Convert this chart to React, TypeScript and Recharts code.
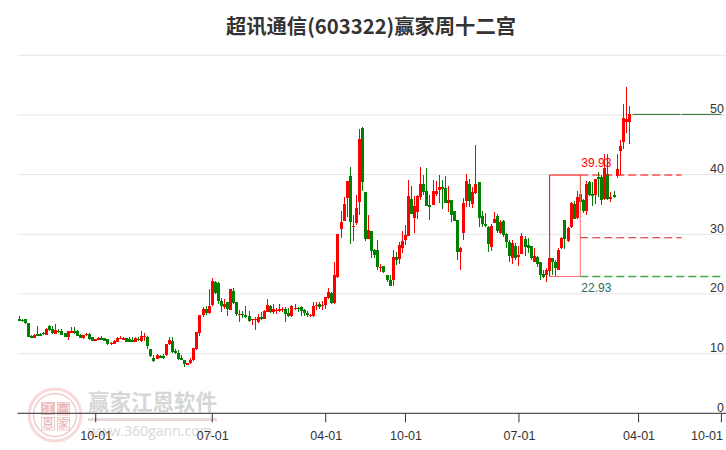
import { Bar, CartesianGrid, ComposedChart, ReferenceDot, ReferenceLine, XAxis, YAxis } from "recharts";

// weekly candles
const opens = [
  15.82, 15.71, 15.76, 15.14, 12.99, 12.66, 13.28, 13.28, 13.5, 13.11,
  14.63, 14.12, 13.33, 13.84, 13.79, 13.39, 12.71, 13.62, 13.79, 13.79,
  13.11, 12.6, 13.05, 13.33, 12.71, 12.15, 12.49, 12.6, 12.54, 12.37,
  11.64, 11.69, 11.98, 12.49, 12.37, 12.54, 12.43, 12.26, 11.98, 12.49,
  12.15, 12.71, 12.77, 10.73, 9.21, 9.15, 9.55, 9.55, 9.77, 11.58,
  12.15, 10.45, 10.17, 9.32, 8.87, 8.25, 8.42, 8.87, 10.85, 13.48,
  16.55, 17.5, 16.82, 18.22, 22.06, 21.84, 18.77, 17.83, 18.6, 17.38,
  20.56, 18.6, 16.49, 16.71, 16.55, 16.38, 15.6, 15.71, 15.26, 16.16,
  15.88, 17.05, 18.05, 16.94, 17.21, 17.1, 17.38, 17.55, 16.82, 16.27,
  17.49, 17.66, 17.77, 17.27, 16.82, 16.38, 16.27, 17.94, 18.33, 17.94,
  18.11, 19.39, 20.22, 18.44, 22.79, 30.92, 32.31, 36.16, 39.78, 31.31,
  31.87, 35.49, 47.8, 37.1, 29.25, 30.58, 27.39, 27.39, 24.33, 24.72,
  23.22, 22.39, 22.28, 26.22, 25.78, 27.72, 29.11, 29.78, 35.89, 32.78,
  33.78, 36.28, 38.39, 37.22, 34.83, 34.94, 36.72, 37.5, 37.89, 37.72,
  35.28, 35.72, 33.89, 32.39, 27.11, 30.28, 35.61, 38.5, 35.11, 36.94,
  38.72, 33.06, 31.72, 31.22, 27.94, 31.89, 33.06, 30.28, 32.22, 30.06,
  28.67, 26.11, 28.06, 26.22, 26.72, 29.22, 28.22, 28, 25.44, 26.22,
  25.33, 23.33, 23.11, 23.78, 26, 25.44, 23.94, 27.67, 32.39, 28.83,
  31.28, 35.06, 32.67, 36.72, 35.72, 33.94, 38.78, 36.83, 36.56, 39.61,
  39.61, 35.94, 40.17, 36, 36.56, 39.72, 43.94, 45.39, 48.78, 48.89,
];
const closes = [
  15.54, 15.42, 15.08, 12.82, 12.66, 13.11, 13.05, 13.05, 13.22, 14.12,
  13.95, 13.39, 13.95, 13.62, 13.16, 12.82, 13.73, 13.79, 13.5, 12.99,
  12.66, 13.05, 13.33, 12.43, 12.15, 12.37, 12.6, 12.43, 12.15, 11.58,
  11.86, 12.15, 12.54, 12.66, 12.54, 11.98, 11.98, 12.09, 12.6, 12.26,
  12.94, 12.99, 11.3, 9.55, 8.76, 9.72, 9.38, 9.32, 11.58, 12.26,
  10.28, 10.11, 9.1, 8.98, 8.19, 8.42, 8.98, 11.02, 13.56, 16.55,
  17.55, 16.82, 18.05, 22.17, 20.17, 18.77, 17.94, 18.38, 17.49, 20.84,
  18.44, 16.71, 16.71, 16.55, 16.16, 15.43, 15.82, 15.82, 16.16, 15.77,
  17.21, 18.16, 16.94, 17.49, 17.38, 17.49, 17.49, 16.66, 16.27, 18.05,
  17.66, 17.49, 17.1, 16.82, 16.43, 16.49, 18.05, 18.16, 17.77, 18.16,
  19.55, 20.39, 18.5, 23.18, 30.03, 32.09, 35.1, 38.94, 32.14, 31.42,
  34.43, 45.96, 38.83, 29.25, 30.75, 27.13, 26.5, 24.44, 24.56, 23.61,
  22.28, 21.28, 26.22, 25.61, 28.17, 28.94, 29.83, 36.39, 33.44, 34.72,
  36.39, 38.39, 37.11, 34.78, 34.61, 37.33, 37.33, 37.89, 37.67, 35.28,
  35.72, 33.28, 32.28, 27.11, 27.72, 35.22, 38.89, 35.61, 37.06, 38.39,
  32.67, 31.67, 31.39, 28.39, 31.39, 32.56, 30.56, 32, 29.89, 28.78,
  26.44, 28.56, 26, 26.5, 29.67, 27.94, 27.67, 26.06, 26.39, 25.06,
  23.17, 22.89, 24, 26, 25.44, 24.28, 27.39, 29.44, 29.17, 31,
  35.17, 32.61, 36.17, 35.44, 33.94, 38.39, 36.56, 36.44, 39.22, 39.22,
  35.72, 41.11, 36, 36.22, 36.28, 41, 44.72, 49.5, 49.33, 50.17,
];
const lows = [
  15.42, 15.37, 15.03, 12.71, 12.6, 12.6, 12.94, 12.99, 13.05, 13.05,
  13.79, 13.33, 13.28, 13.39, 13.05, 12.71, 12.26, 13.5, 13.33, 12.94,
  12.54, 12.49, 12.94, 12.32, 12.09, 12.09, 12.37, 12.37, 12.09, 11.41,
  11.53, 11.58, 11.92, 12.37, 12.26, 11.92, 11.92, 11.98, 11.92, 12.2,
  12.03, 12.15, 10.79, 9.49, 8.59, 9.04, 9.21, 9.15, 9.66, 11.47,
  10.17, 10, 8.98, 8.87, 7.68, 8.19, 8.3, 8.76, 10.56, 12.92,
  16.1, 16.55, 16.71, 17.94, 20.06, 18.38, 16.94, 17.55, 16.27, 17.38,
  18.33, 16.38, 15.26, 15.99, 15.93, 15.38, 14.87, 13.93, 15.15, 15.71,
  15.82, 16.94, 16.82, 16.71, 16.71, 17.05, 17.05, 15.38, 16.16, 16.21,
  17.27, 17.05, 16.38, 16.38, 16.16, 16.16, 16.16, 17.27, 17.55, 17.38,
  17.55, 19.16, 18.38, 18.38, 22.73, 29.42, 32.26, 32.98, 28.41, 28.91,
  31.53, 33.26, 37.27, 28.91, 29.19, 25.96, 26.06, 24.06, 23.72, 23.5,
  22.06, 21.28, 21.28, 24.89, 24.94, 26.83, 28.17, 29.72, 33.39, 30.28,
  32.61, 35.83, 36.56, 34.72, 32.39, 34.89, 36.39, 35.28, 34.22, 35.17,
  33.78, 32.11, 32.28, 25.72, 24.06, 29.06, 34.5, 34.61, 34.33, 36.83,
  31.28, 31.17, 31.28, 27.11, 27.28, 31.83, 30.17, 30.06, 29.61, 27.67,
  25.28, 24.94, 25.61, 24.61, 26.67, 26.28, 26.83, 25.61, 25.39, 24.5,
  22.39, 22.67, 22.06, 22.93, 23.11, 23.06, 23.94, 27.56, 27.5, 28.72,
  31, 32.5, 32.5, 33.94, 33.5, 33.22, 36.39, 34.72, 35.06, 36.28,
  34.94, 35.83, 35.83, 35.44, 36.11, 39.5, 39.89, 44.33, 46.94, 45.17,
];
const highs = [
  16.33, 15.82, 15.88, 15.14, 13.11, 13.22, 14.63, 13.39, 13.56, 14.35,
  14.8, 14.63, 14.97, 14.07, 14.07, 13.5, 13.79, 14.41, 14.41, 13.95,
  13.22, 13.16, 13.45, 13.5, 12.82, 12.49, 12.82, 12.94, 12.54, 12.43,
  12.03, 12.26, 12.71, 12.94, 12.82, 12.66, 12.71, 12.71, 12.71, 12.71,
  13.79, 13.5, 12.94, 10.79, 9.72, 9.89, 9.72, 9.89, 11.58, 12.71,
  12.71, 10.73, 10.56, 9.72, 8.87, 8.47, 9.21, 11.02, 13.67, 16.55,
  17.83, 18.05, 20.89, 22.67, 22.17, 21.95, 19.33, 19.16, 18.72, 20.84,
  21, 18.72, 17.38, 17.21, 18.05, 17.21, 15.82, 16.16, 16.71, 17.05,
  17.38, 19.16, 18.16, 18.33, 17.66, 18.33, 17.83, 17.83, 17.6, 18.16,
  18.38, 17.83, 17.94, 17.49, 17.1, 16.71, 18.72, 18.72, 18.72, 18.83,
  19.55, 21.06, 20.33, 25.4, 30.03, 33.93, 36.21, 38.94, 41.34, 33.26,
  36.6, 47.69, 48.02, 37.1, 33.26, 30.58, 27.5, 29.06, 24.94, 24.72,
  23.22, 23.22, 27.39, 27.11, 28.78, 30.56, 31.56, 39.06, 38.06, 36.39,
  36.56, 41.28, 39.89, 41.06, 36.56, 39.17, 38.94, 39.89, 39.06, 39.72,
  38.06, 35.72, 33.89, 32.39, 27.94, 36.11, 40.06, 39.33, 37.94, 44.89,
  38.72, 33.89, 33.5, 31.39, 31.72, 33.67, 33.39, 32.39, 32.39, 30.17,
  29.06, 29.06, 28.5, 28.06, 30.17, 29.72, 29.33, 28.06, 27.72, 26.39,
  25.44, 24.06, 24.33, 26, 26.11, 25.72, 27.67, 29.5, 32.39, 31.28,
  35.44, 35.61, 37.28, 39.93, 36, 38.94, 38.94, 38.78, 39.22, 40.44,
  39.89, 43.5, 43.5, 37.11, 37.22, 43.5, 45.83, 51.83, 54.72, 51.56,
];

const weekCount = 231;
const tickWeeks = [25, 63, 100, 126, 163, 202, 229];
const tickLabels = ["10-01", "07-01", "04-01", "10-01", "07-01", "04-01", "10-01"];
const priceTicks = [0, 10, 20, 30, 40, 50];
const boxHigh = 39.93;
const boxLow = 22.93;
const boxMid = 29.42;
const lastLevel = 50.1;

const rows = Array.from({ length: weekCount }, (_, week) => ({
  week,
  open: opens[week],
  close: closes[week],
  low: lows[week],
  high: highs[week],
}));

const RED = "#ff0000";
const GREEN = "#008000";
const FONT = "Liberation Sans";

const Candle = (props: any) => {
  const { x, y, width, height, payload } = props;
  if (payload.open === undefined || !height) return null;
  const unit = height / (payload.high - payload.low);
  const top = y + (payload.high - Math.max(payload.open, payload.close)) * unit;
  const bottom = y + (payload.high - Math.min(payload.open, payload.close)) * unit;
  const mid = Math.round(x + width / 2 - 0.5);
  const color = payload.close >= payload.open ? RED : GREEN;
  return (
    <g shapeRendering="crispEdges" fill={color}>
      <rect x={mid} y={y} width={1} height={height} />
      <rect x={mid - 1} y={top} width={3} height={Math.max(bottom - top, 1.5)} />
    </g>
  );
};

const PriceTick = ({ y, payload }: any) => (
  <text x={724} y={y - 1.5} textAnchor="end" fontSize={12.5} fontFamily={FONT} fill="#333">
    {payload.value}
  </text>
);

// the last label is pushed left so it stays on the page
const WeekTick = ({ x, payload }: any) => (
  <text x={Math.min(x + 0.5, 707)} y={439.5} textAnchor="middle" fontSize={12.5} fontFamily={FONT} fill="#333">
    {tickLabels[tickWeeks.indexOf(payload.value)]}
  </text>
);

const BoxLabel = (color: string, dy: number, text: string) => (props: any) => (
  <text x={props.viewBox.x + 1} y={props.viewBox.y + dy} fontSize={12} fontFamily={FONT} fill={color}>
    {text}
  </text>
);

const Watermark = () => (
  <svg width={726} height={450} style={{ position: "absolute", left: 0, top: 0 }}>
    <circle cx={55} cy={415} r={26} fill="none" stroke="#f6dada" strokeWidth={3} />
    <circle cx={55} cy={415} r={21.5} fill="none" stroke="#f2cccc" strokeWidth={1.5} />
    <rect x={41} y={402} width={14} height={13} fill="#f0c0c0" />
    <rect x={57.5} y={402.5} width={12} height={12.5} fill="#f8e4e4" stroke="#f0c8c8" />
    <rect x={41.5} y={417.5} width={13} height={12.5} fill="#fff" stroke="#f0c8c8" />
    <rect x={57.5} y={417.5} width={12} height={12.5} fill="#fff" stroke="#f0c8c8" />
    <g fontSize={11.5} fontFamily="Noto Sans CJK SC" textAnchor="middle" fill="#e8aaaa">
      <text x={48} y={413} fill="#fff">江</text>
      <text x={63.5} y={413}>赢</text>
      <text x={48} y={428}>恩</text>
      <text x={63.5} y={428}>家</text>
    </g>
    <text x={88} y={410} fontSize={21.5} fontWeight="bold" fontFamily="Noto Sans CJK SC" fill="#d6d6d6">
      赢家江恩软件
    </text>
    <rect x={88} y={418} width={129} height={3} fill="#e8d8d8" />
    <text x={88} y={436} fontSize={14} fontFamily="Open Sans" fill="#d8d8d8">
      www.360gann.com
    </text>
  </svg>
);

export default function App() {
  return (
    <div style={{ position: "absolute", left: 0, top: 0, width: 726, height: 450, background: "#fff", overflow: "hidden" }}>
      <Watermark />
      <div
        style={{
          position: "absolute",
          left: 0,
          top: 10,
          width: 742,
          textAlign: "center",
          fontFamily: "Noto Sans CJK SC",
          fontWeight: "bold",
          fontSize: 20.3,
          lineHeight: "30px",
          color: "#333",
        }}
      >
        超讯通信(603322)赢家周十二宫
      </div>
      <ComposedChart
        width={726}
        height={450}
        data={rows}
        barCategoryGap={0}
        margin={{ top: 55.3, right: 0, bottom: 0, left: 17.5 }}
        style={{ position: "absolute", left: 0, top: 0 }}
      >
        <CartesianGrid horizontal vertical={false} stroke="#e6e6e6" />
        <XAxis
          dataKey="week"
          height={36.7}
          ticks={tickWeeks}
          interval={0}
          tickSize={9}
          stroke="#333"
          tick={<WeekTick />}
        />
        <YAxis
          orientation="right"
          width={0.01}
          domain={[0, 60]}
          ticks={priceTicks}
          axisLine={false}
          tickLine={false}
          tick={<PriceTick />}
        />
        <Bar dataKey={(d: any) => [d.low, d.high]} shape={<Candle />} isAnimationActive={false} />
        <ReferenceLine segment={[{ x: 173, y: boxLow }, { x: 173, y: boxHigh }]} stroke={RED} />
        <ReferenceLine segment={[{ x: 173, y: boxHigh }, { x: 183, y: boxHigh }]} stroke={RED} />
        <ReferenceLine segment={[{ x: 183, y: boxLow }, { x: 183, y: boxHigh }]} stroke="#ff7070" />
        <ReferenceLine segment={[{ x: 173, y: boxLow }, { x: 183, y: boxLow }]} stroke="#ff7070" />
        <ReferenceLine segment={[{ x: 183, y: boxHigh }, { x: 216, y: boxHigh }]} stroke={RED} strokeDasharray="8 4" />
        <ReferenceLine segment={[{ x: 183, y: boxMid }, { x: 216, y: boxMid }]} stroke="#d02020" strokeDasharray="8 4" />
        <ReferenceLine segment={[{ x: 183, y: boxLow }, { x: 229, y: boxLow }]} stroke="#45a845" strokeWidth={1.5} strokeDasharray="8 4" />
        <ReferenceLine segment={[{ x: 200, y: lastLevel }, { x: 229, y: lastLevel }]} stroke="#2b6b2b" strokeDasharray="48 1" />
        <ReferenceDot x={183} y={boxHigh} r={0} fill="none" stroke="none" label={BoxLabel(RED, -8, "39.93")} />
        <ReferenceDot x={183} y={boxLow} r={0} fill="none" stroke="none" label={BoxLabel("#1f6f5f", 16, "22.93")} />
      </ComposedChart>
    </div>
  );
}
